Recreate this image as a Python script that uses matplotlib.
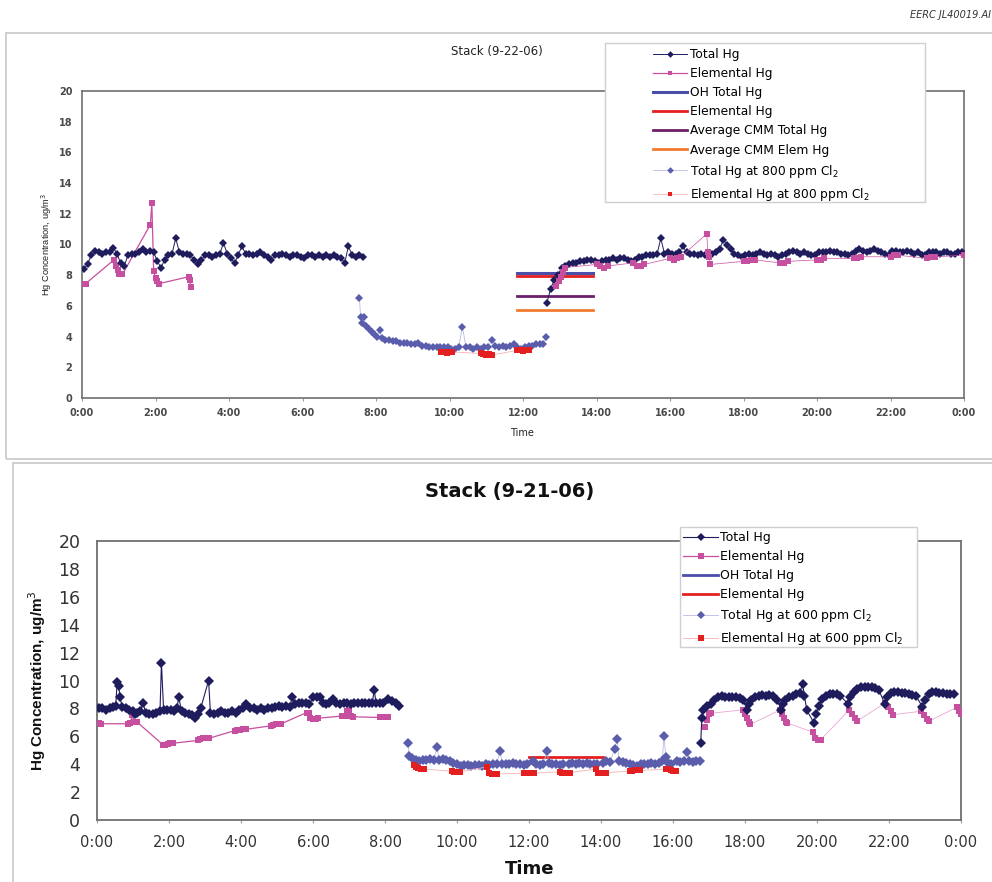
import numpy as np
import matplotlib
matplotlib.use('Agg')
import matplotlib.pyplot as plt
from matplotlib.patches import Rectangle

# colours
NAVY = '#1f1c5e'
PINK = '#c64f9f'
SLATE = '#5a5dab'
RED = '#e3201f'
OHBLUE = '#4a4ea8'
PURPLE = '#6a1f6c'
ORANGE = '#f07b2e'

hours = list(range(0, 25, 2))
hour_labels = ['0:00', '2:00', '4:00', '6:00', '8:00', '10:00', '12:00',
               '14:00', '16:00', '18:00', '20:00', '22:00', '0:00']

# ---------------- Stack (9-22-06) ----------------
# Total Hg, sampled every 0.1 h
top_total_a_start = 0.05
top_total_a = [8.4, 8.7, 9.3, 9.6, 9.5, 9.4, 9.5, 9.5, 9.8, 9.4,
               8.8, 8.6, 9.3, 9.4, 9.4, 9.5, 9.7, 9.5, 9.6, 9.5,
               8.9, 8.5, 9.0, 9.3, 9.4, 10.4, 9.5, 9.4, 9.4, 9.3,
               9.0, 8.7, 9.0, 9.3, 9.3, 9.2, 9.3, 9.4, 10.1, 9.4,
               9.1, 8.8, 9.3, 9.9, 9.4, 9.4, 9.3, 9.4, 9.5, 9.3,
               9.2, 9.0, 9.3, 9.3, 9.4, 9.3, 9.2, 9.3, 9.3, 9.2,
               9.1, 9.3, 9.3, 9.2, 9.3, 9.2, 9.3, 9.2, 9.3, 9.2,
               9.1, 8.8, 9.9, 9.3, 9.2, 9.3, 9.2]
top_total_b_start = 12.65
top_total_b = [6.2, 7.1, 7.7, 8.0, 8.5, 8.6, 8.7, 8.8, 8.8, 8.9,
               8.9, 9.0, 9.0, 8.9, 8.8, 8.9, 9.0, 9.0, 9.1, 9.0,
               9.1, 9.1, 9.0, 8.9, 9.0, 9.2, 9.2, 9.3, 9.3, 9.3,
               9.4, 10.4, 9.4, 9.5, 9.4, 9.4, 9.5, 9.9, 9.5, 9.4,
               9.4, 9.3, 9.4, 9.3, 9.4, 9.4, 9.5, 9.7, 10.3, 10.0,
               9.7, 9.4, 9.3, 9.2, 9.3, 9.4, 9.3, 9.4, 9.5, 9.4,
               9.3, 9.4, 9.3, 9.2, 9.3, 9.4, 9.5, 9.6, 9.5, 9.4,
               9.5, 9.4, 9.3, 9.3, 9.5, 9.5, 9.5, 9.6, 9.5, 9.5,
               9.4, 9.4, 9.3, 9.4, 9.6, 9.7, 9.6, 9.5, 9.6, 9.7,
               9.6, 9.5, 9.4, 9.3, 9.6, 9.6, 9.5, 9.5, 9.6, 9.5,
               9.4, 9.5, 9.3, 9.3, 9.5, 9.5, 9.5, 9.4, 9.5, 9.5,
               9.4, 9.4, 9.5, 9.5]
top_step = 0.1

# Elemental Hg (time h, value)
top_elem_a = [(0.0, 7.45), (0.1, 7.45), (0.87, 9.0), (0.92, 8.6), (0.97, 8.35),
              (1.02, 8.05), (1.1, 8.05), (1.86, 11.3), (1.9, 12.7), (1.95, 8.25),
              (2.0, 7.8), (2.05, 7.6), (2.1, 7.45), (2.9, 7.9), (2.93, 7.7),
              (2.96, 7.2)]
top_elem_b = [(12.9, 7.3), (12.97, 7.6), (13.03, 7.9), (13.1, 8.2), (13.15, 8.5),
              (14.0, 8.7), (14.1, 8.6), (14.2, 8.5), (14.3, 8.6),
              (15.0, 8.8), (15.1, 8.6), (15.2, 8.6), (15.3, 8.7),
              (16.0, 9.1), (16.1, 9.0), (16.2, 9.1), (16.3, 9.2),
              (17.0, 10.7), (17.03, 9.5), (17.06, 9.2), (17.1, 8.7),
              (18.0, 8.9), (18.1, 8.9), (18.2, 9.0), (18.3, 9.0),
              (19.0, 8.8), (19.1, 8.8), (19.2, 8.9),
              (20.0, 9.0), (20.1, 9.0), (20.2, 9.1),
              (21.0, 9.1), (21.1, 9.1), (21.2, 9.2),
              (22.0, 9.2), (22.1, 9.3), (22.2, 9.3),
              (23.0, 9.1), (23.1, 9.2), (23.2, 9.2), (24.0, 9.3)]

# Total Hg at 800 ppm Cl2
top_total_800 = [(7.55, 6.5), (7.58, 5.3), (7.62, 4.9), (7.68, 5.3), (7.72, 4.7),
                 (7.8, 4.5), (7.88, 4.3), (7.95, 4.2), (8.02, 4.0), (8.1, 4.4),
                 (8.15, 3.9), (8.25, 3.8), (8.35, 3.8), (8.45, 3.7), (8.55, 3.7),
                 (8.65, 3.6), (8.75, 3.6), (8.85, 3.6), (8.95, 3.5), (9.05, 3.5),
                 (9.15, 3.6), (9.25, 3.4), (9.35, 3.4), (9.45, 3.3), (9.55, 3.3),
                 (9.65, 3.3), (9.75, 3.3), (9.85, 3.3), (9.95, 3.3), (10.05, 3.2),
                 (10.15, 3.2), (10.25, 3.3), (10.35, 4.65), (10.45, 3.3), (10.55, 3.3),
                 (10.65, 3.2), (10.75, 3.3), (10.85, 3.2), (10.95, 3.3), (11.05, 3.3),
                 (11.15, 3.8), (11.25, 3.4), (11.35, 3.3), (11.45, 3.4), (11.55, 3.3),
                 (11.65, 3.4), (11.75, 3.5), (11.85, 3.3), (11.95, 3.2), (12.05, 3.3),
                 (12.15, 3.4), (12.25, 3.4), (12.35, 3.5), (12.45, 3.5), (12.55, 3.5),
                 (12.62, 3.95)]
# Elemental Hg at 800 ppm Cl2
top_elem_800 = [(9.78, 3.0), (9.85, 3.0), (9.92, 2.95), (10.0, 3.0), (10.08, 3.0),
                (10.85, 2.9), (10.92, 2.85), (11.0, 2.8), (11.07, 2.85), (11.15, 2.8),
                (11.85, 3.1), (11.92, 3.1), (12.0, 3.05), (12.07, 3.1), (12.15, 3.1)]

# reference averages (start h, end h, value)
top_oh_total = (11.85, 13.9, 8.15)
top_oh_elem = (11.85, 13.9, 7.97)
top_cmm_total = (11.85, 13.9, 6.62)
top_cmm_elem = (11.85, 13.9, 5.75)

# ---------------- Stack (9-21-06) ----------------
bot_total_a = [(0.05, 8.0), (0.15, 8.0), (0.25, 7.9), (0.35, 8.0), (0.45, 8.1),
               (0.52, 8.2), (0.56, 9.9), (0.6, 9.6), (0.64, 8.8), (0.7, 8.1),
               (0.8, 8.0), (0.9, 7.9), (1.0, 7.8), (1.05, 7.6), (1.1, 7.7),
               (1.2, 7.8), (1.28, 8.4), (1.35, 7.7), (1.45, 7.6), (1.55, 7.6),
               (1.65, 7.7), (1.75, 7.8), (1.79, 11.25), (1.85, 7.9), (1.95, 7.9),
               (2.05, 7.9), (2.15, 7.8), (2.22, 8.0), (2.27, 8.8), (2.35, 7.8),
               (2.45, 7.7), (2.55, 7.6), (2.65, 7.5), (2.72, 7.3), (2.8, 7.6),
               (2.88, 8.0), (3.1, 10.0), (3.15, 7.7), (3.25, 7.6), (3.35, 7.7),
               (3.45, 7.8), (3.55, 7.7), (3.65, 7.7), (3.75, 7.8), (3.85, 7.7),
               (3.95, 7.9), (4.05, 8.0), (4.15, 8.35), (4.25, 8.0), (4.35, 8.0),
               (4.45, 7.9), (4.55, 8.0), (4.65, 7.9), (4.75, 8.0), (4.85, 8.0),
               (4.95, 8.1), (5.05, 8.2), (5.15, 8.1), (5.25, 8.2), (5.35, 8.1),
               (5.43, 8.85), (5.5, 8.3), (5.6, 8.4), (5.7, 8.4), (5.8, 8.4),
               (5.9, 8.3), (6.0, 8.8), (6.1, 8.8), (6.2, 8.8), (6.28, 8.4),
               (6.35, 8.3), (6.45, 8.4), (6.55, 8.7), (6.65, 8.4), (6.75, 8.3),
               (6.85, 8.4), (6.95, 8.4), (7.05, 8.3), (7.15, 8.4), (7.25, 8.4),
               (7.35, 8.4), (7.45, 8.4), (7.55, 8.4), (7.65, 8.4), (7.7, 9.35),
               (7.75, 8.4), (7.85, 8.4), (7.95, 8.4), (8.08, 8.65), (8.2, 8.5),
               (8.3, 8.4), (8.4, 8.2)]
bot_total_b = [(16.77, 5.5), (16.8, 7.3), (16.83, 7.9), (16.95, 8.2), (17.05, 8.35),
               (17.15, 8.6), (17.25, 8.8), (17.35, 8.9), (17.45, 8.85), (17.55, 8.85),
               (17.65, 8.8), (17.75, 8.8), (17.85, 8.75), (17.95, 8.6), (18.05, 7.9),
               (18.1, 8.3), (18.18, 8.6), (18.28, 8.8), (18.38, 8.9), (18.48, 8.95),
               (18.58, 8.9), (18.68, 8.95), (18.78, 8.9), (18.9, 8.6), (19.0, 7.9),
               (19.05, 8.3), (19.12, 8.6), (19.22, 8.8), (19.32, 8.9), (19.42, 9.0),
               (19.52, 9.1), (19.6, 9.75), (19.65, 8.9), (19.72, 7.85), (19.92, 6.95),
               (19.97, 7.6), (20.05, 8.2), (20.15, 8.7), (20.25, 8.9), (20.35, 9.0),
               (20.45, 9.0), (20.55, 9.05), (20.65, 8.9), (20.85, 8.35), (20.92, 8.8),
               (21.02, 9.2), (21.12, 9.4), (21.22, 9.5), (21.32, 9.55), (21.42, 9.55),
               (21.52, 9.5), (21.62, 9.45), (21.72, 9.3), (21.88, 8.35), (21.95, 8.8),
               (22.05, 9.1), (22.15, 9.2), (22.25, 9.15), (22.35, 9.1), (22.45, 9.1),
               (22.55, 9.0), (22.65, 8.95), (22.75, 8.9), (22.93, 8.1), (23.0, 8.6),
               (23.1, 9.0), (23.2, 9.15), (23.3, 9.15), (23.4, 9.1), (23.5, 9.1),
               (23.6, 9.05), (23.7, 9.0), (23.8, 9.0)]
bot_elem_a = [(0.0, 6.95), (0.06, 6.95), (0.12, 6.9), (0.86, 6.9), (0.92, 6.95),
              (0.98, 7.5), (1.04, 7.0), (1.1, 7.05), (1.83, 5.4), (1.9, 5.35),
              (1.97, 5.45), (2.04, 5.5), (2.1, 5.5), (2.8, 5.7), (2.87, 5.8),
              (2.95, 5.85), (3.02, 5.9), (3.1, 5.85), (3.82, 6.4), (3.9, 6.45),
              (3.98, 6.45), (4.06, 6.5), (4.14, 6.5), (4.82, 6.75), (4.9, 6.8),
              (4.98, 6.85), (5.06, 6.9), (5.12, 6.9), (5.82, 7.7), (5.88, 7.65),
              (5.93, 7.3), (6.0, 7.25), (6.08, 7.25), (6.15, 7.3), (6.8, 7.45),
              (6.88, 7.45), (6.95, 7.8), (7.0, 7.9), (7.05, 7.45), (7.12, 7.4),
              (7.85, 7.35), (7.93, 7.35), (8.0, 7.35), (8.08, 7.35)]
bot_elem_b = [(16.9, 6.7), (16.95, 7.2), (17.0, 7.6), (17.05, 7.65), (17.95, 7.9),
              (18.0, 7.6), (18.05, 7.3), (18.1, 7.0), (18.15, 6.85), (18.98, 7.9),
              (19.03, 7.6), (19.08, 7.3), (19.13, 7.0), (19.18, 6.95), (19.88, 6.3),
              (19.95, 5.9), (20.02, 5.75), (20.1, 5.75), (20.9, 7.9), (20.97, 7.6),
              (21.05, 7.3), (21.12, 7.1), (21.9, 8.4), (21.97, 8.1), (22.05, 7.8),
              (22.12, 7.55), (22.9, 7.8), (22.97, 7.5), (23.05, 7.25), (23.12, 7.1),
              (23.9, 8.1), (23.95, 7.8), (24.0, 7.6)]
bot_total_600 = [(8.63, 5.55), (8.68, 4.6), (8.75, 4.45), (8.85, 4.3), (8.95, 4.2),
                 (9.05, 4.3), (9.15, 4.3), (9.25, 4.35), (9.35, 4.3), (9.45, 5.2),
                 (9.5, 4.3), (9.6, 4.35), (9.7, 4.3), (9.8, 4.2), (9.9, 4.1),
                 (10.0, 4.0), (10.1, 3.9), (10.2, 3.95), (10.3, 3.95), (10.4, 3.9),
                 (10.5, 3.95), (10.6, 3.95), (10.7, 3.9), (10.8, 4.0), (10.9, 3.95),
                 (11.0, 4.0), (11.1, 4.05), (11.2, 4.95), (11.25, 4.05), (11.35, 4.0),
                 (11.45, 4.05), (11.55, 4.1), (11.65, 4.05), (11.75, 4.05), (11.85, 3.95),
                 (11.95, 4.0), (12.1, 4.2), (12.2, 4.0), (12.3, 3.95), (12.4, 4.0),
                 (12.5, 4.95), (12.55, 4.1), (12.65, 4.0), (12.75, 4.05), (12.85, 3.95),
                 (12.95, 4.0), (13.1, 4.05), (13.2, 4.1), (13.3, 4.05), (13.4, 4.1),
                 (13.5, 4.0), (13.6, 4.1), (13.7, 4.05), (13.8, 4.0), (13.9, 4.0),
                 (14.05, 4.1), (14.15, 4.2), (14.25, 4.15), (14.38, 5.1), (14.45, 5.8),
                 (14.5, 4.2), (14.6, 4.15), (14.7, 4.1), (14.8, 4.05), (14.9, 3.95),
                 (15.0, 3.9), (15.1, 4.0), (15.2, 4.05), (15.3, 4.05), (15.4, 4.1),
                 (15.5, 4.05), (15.6, 4.1), (15.7, 4.2), (15.75, 6.0), (15.8, 4.55),
                 (15.85, 4.1), (15.95, 4.05), (16.1, 4.2), (16.2, 4.15), (16.3, 4.2),
                 (16.4, 4.9), (16.45, 4.2), (16.55, 4.15), (16.65, 4.2), (16.75, 4.2)]
bot_elem_600 = [(8.8, 3.95), (8.87, 3.8), (8.93, 3.7), (9.0, 3.65), (9.07, 3.65),
                (9.85, 3.5), (9.92, 3.45), (10.0, 3.45), (10.07, 3.45),
                (10.83, 3.8), (10.9, 3.35), (10.97, 3.3), (11.04, 3.3), (11.1, 3.3),
                (11.85, 3.35), (11.92, 3.35), (12.0, 3.4), (12.07, 3.4), (12.14, 3.35),
                (12.85, 3.45), (12.92, 3.4), (13.0, 3.4), (13.07, 3.4), (13.14, 3.4),
                (13.85, 3.65), (13.92, 3.35), (14.0, 3.35), (14.07, 3.35), (14.14, 3.4),
                (14.8, 3.5), (14.87, 3.5), (14.94, 3.55), (15.01, 3.55), (15.08, 3.55),
                (15.8, 3.65), (15.87, 3.65), (15.94, 3.55), (16.01, 3.5), (16.08, 3.5)]
bot_oh_elem = (12.0, 14.05, 4.55)


def unzip(pairs):
    t, v = zip(*pairs)
    return list(t), list(v)


W, H = 992.0, 882.0
plt.rcParams['font.family'] = 'DejaVu Sans'
fig = plt.figure(figsize=(9.92, 8.82), dpi=100)


def px_box(l, t, r, b):
    return [l / W, 1 - b / H, (r - l) / W, (b - t) / H]


# panel frames
fig.add_artist(Rectangle((6 / W, 1 - 459 / H), 1.0, (459 - 33) / H, transform=fig.transFigure,
                         fill=False, ec='#c8c8c8', lw=1.2, zorder=0))
fig.add_artist(Rectangle((13 / W, -0.1), 1.0, 0.1 + (882 - 463) / H, transform=fig.transFigure,
                         fill=False, ec='#c8c8c8', lw=1.2, zorder=0))

# ================= top =================
ax = fig.add_axes(px_box(82, 91, 964, 398))
ta = top_total_a_start + top_step * np.arange(len(top_total_a))
tb = top_total_b_start + top_step * np.arange(len(top_total_b))
h_total, = ax.plot(ta, top_total_a, color=NAVY, marker='D', ms=4.5, mew=0, lw=0.7, zorder=5)
ax.plot(tb, top_total_b, color=NAVY, marker='D', ms=4.5, mew=0, lw=0.7, zorder=5)
t, v = unzip(top_elem_a)
h_elem, = ax.plot(t, v, color=PINK, marker='s', ms=4.5, mew=0, lw=0.9, zorder=4)
t, v = unzip(top_elem_b)
ax.plot(t, v, color=PINK, marker='s', ms=4.5, mew=0, lw=0.5, zorder=6)
h_oh, = ax.plot(top_oh_total[:2], [top_oh_total[2]] * 2, color=OHBLUE, lw=2.2, zorder=3)
h_ohe, = ax.plot(top_oh_elem[:2], [top_oh_elem[2]] * 2, color=RED, lw=2.0, zorder=3)
h_cmm, = ax.plot(top_cmm_total[:2], [top_cmm_total[2]] * 2, color=PURPLE, lw=2.0, zorder=3)
h_cmme, = ax.plot(top_cmm_elem[:2], [top_cmm_elem[2]] * 2, color=ORANGE, lw=2.0, zorder=3)
t, v = unzip(top_total_800)
h_t800, = ax.plot(t, v, color='#b9bbe0', marker='D', ms=4.5, mew=0, mfc=SLATE, lw=0.6, zorder=4)
t, v = unzip(top_elem_800)
h_e800, = ax.plot(t, v, color='#f6b3b3', marker='s', ms=4.5, mew=0, mfc=RED, lw=0.6, zorder=5)

ax.set_xlim(0, 24)
ax.set_ylim(0, 20)
ax.set_xticks(hours)
ax.set_xticklabels(hour_labels)
ax.set_yticks(range(0, 21, 2))
for s in ax.spines.values():
    s.set_color('#6f6f6f')
    s.set_linewidth(1.2)
ax.tick_params(axis='y', length=0, pad=7, labelsize=7, labelcolor='#4a4a4a')
ax.tick_params(axis='x', length=2, color='#9a9a9a', pad=5, labelsize=7, labelcolor='#4a4a4a')
for lab in ax.get_xticklabels() + ax.get_yticklabels():
    lab.set_fontweight('bold')

fig.text(47 / W, 1 - 244 / H, 'Hg Concentration, ug/m$^3$', rotation=90, ha='center',
         va='center', fontsize=6.7, family='Liberation Sans', color='#222222')
fig.text(522 / W, 1 - 433 / H, 'Time', ha='center', va='center', fontsize=7, color='#222222')
fig.text(497 / W, 1 - 51 / H, 'Stack (9-22-06)', ha='center', va='center', fontsize=8.5,
         color='#222222')
fig.text(0.999, 1 - 15 / H, 'EERC JL40019.AI', ha='right', va='center', fontsize=7,
         style='italic', color='#333333')

fig.add_artist(Rectangle((605 / W, 1 - 202 / H), 320 / W, 159 / H, transform=fig.transFigure,
                         fc='white', ec='#cfcfcf', lw=1, zorder=3))
fig.legend([h_total, h_elem, h_oh, h_ohe, h_cmm, h_cmme, h_t800, h_e800],
           ['Total Hg', 'Elemental Hg', 'OH Total Hg', 'Elemental Hg',
            'Average CMM Total Hg', 'Average CMM Elem Hg',
            'Total Hg at 800 ppm Cl$_2$', 'Elemental Hg at 800 ppm Cl$_2$'],
           loc='upper left', bbox_to_anchor=(653 / W, 1 - 48 / H), frameon=False,
           fontsize=8.8, handlelength=2.8, handletextpad=0.25, labelspacing=0.5,
           borderpad=0, borderaxespad=0, markerscale=0.75)

# ================= bottom =================
ax2 = fig.add_axes(px_box(97, 541, 961, 820))
t, v = unzip(bot_total_a)
b_total, = ax2.plot(t, v, color=NAVY, marker='D', ms=5, mew=0, lw=0.8, zorder=5)
t, v = unzip(bot_total_b)
ax2.plot(t, v, color=NAVY, marker='D', ms=5, mew=0, lw=0.8, zorder=5)
t, v = unzip(bot_elem_a)
b_elem, = ax2.plot(t, v, color=PINK, marker='s', ms=5, mew=0, lw=0.9, zorder=4)
t, v = unzip(bot_elem_b)
ax2.plot(t, v, color='#e8a8d2', marker='s', ms=5, mew=0, mfc=PINK, lw=0.6, zorder=4)
b_oh, = ax2.plot([], [], color=OHBLUE, lw=2.0)
b_ohe, = ax2.plot(bot_oh_elem[:2], [bot_oh_elem[2]] * 2, color=RED, lw=2.0, zorder=3)
t, v = unzip(bot_total_600)
b_t600, = ax2.plot(t, v, color='#b9bbe0', marker='D', ms=5, mew=0, mfc=SLATE, lw=0.6, zorder=4)
t, v = unzip(bot_elem_600)
b_e600, = ax2.plot(t, v, color='#f6b3b3', marker='s', ms=5, mew=0, mfc=RED, lw=0.6, zorder=5)

ax2.set_xlim(0, 24)
ax2.set_ylim(0, 20)
ax2.set_xticks(hours)
ax2.set_xticklabels(hour_labels)
ax2.set_yticks(range(0, 21, 2))
for s in ax2.spines.values():
    s.set_color('#6f6f6f')
    s.set_linewidth(1.3)
ax2.tick_params(axis='y', length=0, pad=12, labelsize=12.5, labelcolor='#333333')
ax2.tick_params(axis='x', length=2.5, color='#9a9a9a', pad=8, labelsize=10.5, labelcolor='#333333')

fig.text(37 / W, 1 - 681 / H, 'Hg Concentration, ug/m$^3$', rotation=90, ha='center',
         va='center', fontsize=11, fontweight='bold', family='Liberation Sans', color='#111111')
fig.text(530 / W, 1 - 869 / H, 'Time', ha='center', va='center', fontsize=13,
         fontweight='bold', color='#111111')
fig.text(510 / W, 1 - 491 / H, 'Stack (9-21-06)', ha='center', va='center', fontsize=14,
         fontweight='bold', color='#111111')

fig.add_artist(Rectangle((680 / W, 1 - 647 / H), 237 / W, 120 / H, transform=fig.transFigure,
                         fc='white', ec='#cfcfcf', lw=1, zorder=3))
fig.legend([b_total, b_elem, b_oh, b_ohe, b_t600, b_e600],
           ['Total Hg', 'Elemental Hg', 'OH Total Hg', 'Elemental Hg',
            'Total Hg at 600 ppm Cl$_2$', 'Elemental Hg at 600 ppm Cl$_2$'],
           loc='upper left', bbox_to_anchor=(683 / W, 1 - 531 / H), frameon=False,
           fontsize=9, handlelength=2.8, handletextpad=0.2, labelspacing=0.48,
           borderpad=0, borderaxespad=0, markerscale=0.75)

fig.savefig('out.png', dpi=100)
